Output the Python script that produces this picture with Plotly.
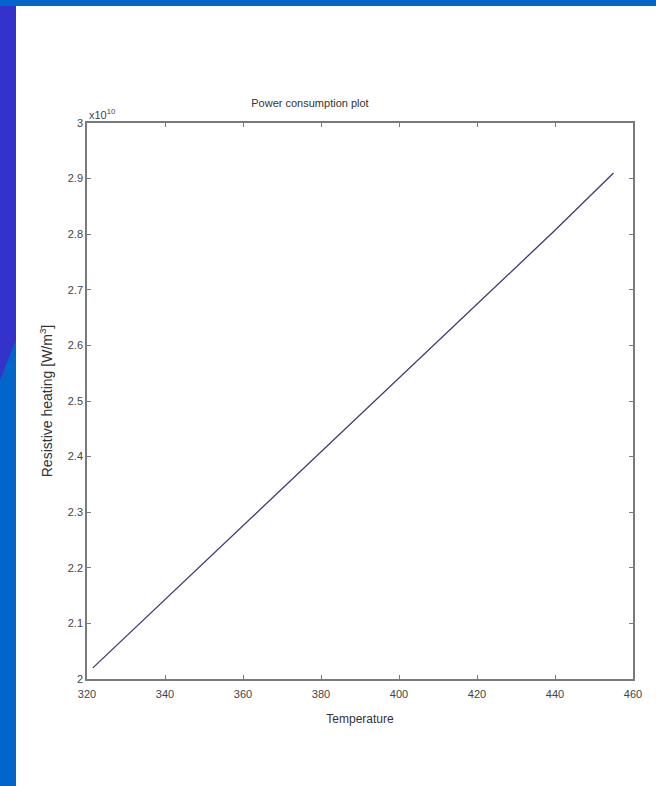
import plotly.graph_objects as go

# data
temperature = [321.5, 360, 400, 440, 455]
heating = [2.02e10, 2.276e10, 2.541e10, 2.807e10, 2.91e10]

x_ticks = [320, 340, 360, 380, 400, 420, 440, 460]
y_ticks = [2.0e10, 2.1e10, 2.2e10, 2.3e10, 2.4e10, 2.5e10, 2.6e10, 2.7e10, 2.8e10, 2.9e10, 3.0e10]
y_tick_text = ["2", "2.1", "2.2", "2.3", "2.4", "2.5", "2.6", "2.7", "2.8", "2.9", "3"]

W, H = 656, 786
L, R, T, B = 87, 633, 123, 679   # plot area in pixels


def px(x):
    return (x - L) / (R - L)


def py(y):
    return (B - y) / (B - T)


FONT = "Liberation Sans Narrow, Arial Narrow, Liberation Sans, sans-serif"
AXIS = dict(
    showline=True, linecolor="#7a7a7a", linewidth=1.5, mirror="ticks",
    ticks="inside", ticklen=4, tickcolor="#7a7a7a", showgrid=False, zeroline=False,
    tickfont=dict(family=FONT, size=11, color="#444"),
)

fig = go.Figure()
fig.add_trace(go.Scatter(
    x=temperature, y=heating, mode="lines",
    line=dict(color="#3a3a6e", width=1.3), showlegend=False,
))

fig.update_xaxes(range=[320, 460], tickvals=x_ticks, ticklabelstandoff=4, **AXIS,
                 title=dict(text="Temperature", font=dict(family=FONT, size=12, color="#333"), standoff=16))
fig.update_yaxes(range=[2e10, 3e10], tickvals=y_ticks, ticktext=y_tick_text, **AXIS,
                 title=dict(text="Resistive heating [W/m<sup>3</sup>]",
                            font=dict(family=FONT, size=14, color="#333"), standoff=12))

fig.add_annotation(text="x10<sup>10</sup>", xref="paper", yref="paper", x=0, y=1,
                   xanchor="left", yanchor="bottom", showarrow=False,
                   font=dict(family=FONT, size=11, color="#444"))

# slide decoration: top bar and left band
shapes = [
    dict(type="rect", xref="paper", yref="paper", x0=px(0), x1=px(W), y0=py(6), y1=py(0),
         fillcolor="#0066cc", line_width=0, layer="above"),
    dict(type="rect", xref="paper", yref="paper", x0=px(0), x1=px(16), y0=py(H), y1=py(6),
         fillcolor="#0066cc", line_width=0, layer="above"),
    dict(type="path", xref="paper", yref="paper",
         path=f"M {px(0)},{py(6)} L {px(16)},{py(6)} L {px(16)},{py(340)} L {px(0)},{py(380)} Z",
         fillcolor="#3333cc", line_width=0, layer="above"),
]

fig.update_layout(
    width=W, height=H,
    margin=dict(l=L, r=W - R, t=T, b=H - B),
    paper_bgcolor="white", plot_bgcolor="white",
    title=dict(text="Power consumption plot", x=px(345), xanchor="center",
               y=1 - 103 / H, yanchor="middle",
               font=dict(family=FONT, size=11, color="#333")),
    shapes=shapes,
)

# drop the browser's default body margin so the figure fills the window
fig.write_html("out.html", config={"displayModeBar": False},
               post_script="document.body.style.margin='0';")
